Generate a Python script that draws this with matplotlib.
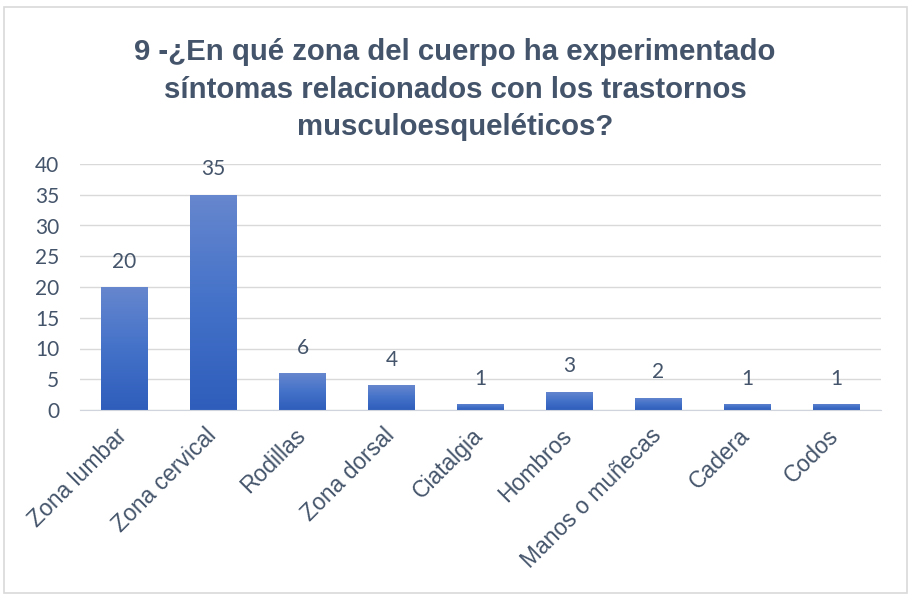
import matplotlib
matplotlib.use("Agg")
import matplotlib.pyplot as plt
import numpy as np
from matplotlib.patches import Rectangle
from matplotlib.colors import LinearSegmentedColormap
from matplotlib.transforms import ScaledTranslation

categories = ["Zona lumbar", "Zona cervical", "Rodillas", "Zona dorsal", "Ciatalgia",
              "Hombros", "Manos o muñecas", "Cadera", "Codos"]
values = [20, 35, 6, 4, 1, 3, 2, 1, 1]
yticks = [0, 5, 10, 15, 20, 25, 30, 35, 40]
title = "9 -¿En qué zona del cuerpo ha experimentado\nsíntomas relacionados con los trastornos\nmusculoesqueléticos?"

text_col = "#44546A"
fig = plt.figure(figsize=(9.11, 5.99), dpi=100)
fig.patches.append(Rectangle((4/911, 6/599), 903/911, 586/599, transform=fig.transFigure,
                             fill=False, edgecolor="#D9D9D9", linewidth=1.2))

ax = fig.add_axes([80/911, 1-410/599, 801/911, 246/599])
x = np.arange(len(categories))
bars = ax.bar(x, values, width=0.52, color="none", zorder=3)
cmap = LinearSegmentedColormap.from_list("g", ["#2E5DBB", "#4472C9", "#6787CE"])
grad = np.linspace(0, 1, 256).reshape(-1, 1)
for b in bars:
    x0, y0 = b.get_x(), b.get_y()
    w, h = b.get_width(), b.get_height()
    im = ax.imshow(grad, cmap=cmap, origin="lower", aspect="auto",
                   extent=[x0, x0 + w, y0, y0 + h], zorder=3)
    im.set_clip_path(b)
for xi, v in zip(x, values):
    ax.annotate(str(v), (xi, v), xytext=(0, 11), textcoords="offset points",
                ha="center", va="bottom", fontsize=15, color=text_col, family="Lato")

ax.set_xlim(-0.5, len(categories) - 0.5)
ax.set_ylim(0, 40)
ax.set_yticks(yticks)
ax.set_yticklabels([str(t) for t in yticks], fontsize=15, color=text_col, family="Lato")
ax.set_xticks(x)
ax.set_xticklabels(categories)
ax.tick_params(axis="y", length=0, pad=15)
ax.tick_params(axis="x", length=0, pad=16)
shift = ScaledTranslation(-1/100, 0, fig.dpi_scale_trans)
for lab in ax.get_xticklabels():
    lab.set_fontfamily("Liberation Sans")
    lab.set_fontsize(16.5)
    lab.set_color(text_col)
    lab.set_rotation(45)
    lab.set_ha("right")
    lab.set_va("center")
    lab.set_rotation_mode("anchor")
    lab.set_transform(lab.get_transform() + shift)
ax.grid(axis="y", color="#D9D9D9", linewidth=1, zorder=0)
for s in ["top", "right", "left"]:
    ax.spines[s].set_visible(False)
ax.spines["bottom"].set_color("#D0D5DD")
ax.spines["bottom"].set_zorder(4)

fig.text(455/911, 1-38.5/599, title, ha="center", va="top", fontsize=21.2, fontweight="bold",
         color=text_col, family="Liberation Sans", linespacing=1.43)

fig.savefig("out.png", dpi=100)
